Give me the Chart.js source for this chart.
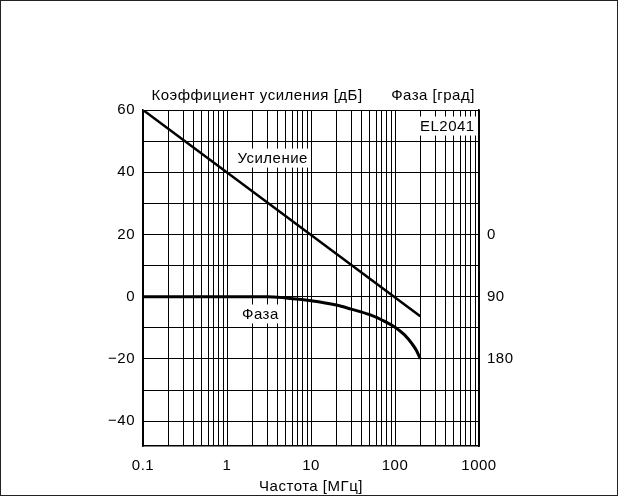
<!DOCTYPE html>
<html>
<head>
<meta charset="utf-8">
<script src="https://cdn.jsdelivr.net/npm/chart.js@4/dist/chart.umd.min.js"></script>
<style>
  html, body { margin: 0; padding: 0; background: #fff; }
  #wrap { width: 618px; height: 496px; position: relative; }
</style>
</head>
<body>
<div id="wrap"><canvas id="chart" width="618" height="496"></canvas></div>
<script>
  // Gain curve (dB vs MHz)
  const gainFreq = [0.1, 200];
  const gainDb = [60, -6.3];

  // Phase curve, plotted on the left dB scale (0 dB = 90 deg, -20 dB = 180 deg)
  const phaseFreq = [0.1, 1, 3, 5, 10, 20, 30, 50, 70, 100, 130, 160, 180, 200];
  const phaseDb = [0, 0, 0, -0.4, -1.3, -2.7, -4, -5.8, -7.5, -9.8, -12.3, -15.2, -17.3, -20];

  // Axis ticks
  const xDecades = [0.1, 1, 10, 100, 1000];
  const xTickLabels = ['0.1', '1', '10', '100', '1000'];
  const yGridValues = [60, 50, 40, 30, 20, 10, 0, -10, -20, -30, -40];
  const yLabelValues = [60, 40, 20, 0, -20, -40];
  const yLabels = ['60', '40', '20', '0', '\u221220', '\u221240'];
  const phaseTickPos = [20, 0, -20];
  const phaseTickLabels = ['0', '90', '180'];

  const FONT = '"Liberation Sans", Arial, sans-serif';
  const FSIZE = 15;

  const spacingPlugin = {
    id: 'spacing',
    beforeUpdate(chart) { chart.ctx.letterSpacing = '0.5px'; },
    beforeDraw(chart) { chart.ctx.letterSpacing = '0.5px'; }
  };

  const labelsPlugin = {
    id: 'labels',
    afterDatasetsDraw(chart) {
      const { ctx, scales: { x, y } } = chart;
      const boxed = [
        { text: 'Усиление', fx: 3.5, fy: 44.7 },
        { text: 'Фаза', fx: 2.5, fy: -5.4 },
        { text: 'EL2041', fx: 420, fy: 55 }
      ];
      ctx.save();
      ctx.font = FSIZE + 'px ' + FONT;
      ctx.textAlign = 'center';
      ctx.textBaseline = 'middle';
      boxed.forEach(b => {
        const px = x.getPixelForValue(b.fx);
        const py = y.getPixelForValue(b.fy);
        const w = ctx.measureText(b.text).width + 6;
        ctx.fillStyle = '#fff';
        ctx.fillRect(px - w / 2, py - 9, w, 19);
        ctx.fillStyle = '#000';
        ctx.fillText(b.text, px, py + 1);
      });

      // titles above the plot
      const area = chart.chartArea;
      ctx.textBaseline = 'alphabetic';
      ctx.fillText('Коэффициент усиления [дБ]', 257, area.top - 10);
      ctx.fillText('Фаза [град]', 433, area.top - 10);

      // outer frame
      ctx.strokeStyle = '#222';
      ctx.lineWidth = 1;
      ctx.strokeRect(0.5, 0.5, chart.width - 1, chart.height - 1);
      ctx.restore();
    }
  };

  const toPoints = (xs, ys) => xs.map((v, i) => ({ x: v, y: ys[i] }));

  new Chart(document.getElementById('chart'), {
    type: 'scatter',
    data: {
      datasets: [
        {
          label: 'Усиление',
          data: toPoints(gainFreq, gainDb),
          showLine: true,
          borderColor: '#000',
          borderWidth: 2.5,
          pointRadius: 0,
          yAxisID: 'y'
        },
        {
          label: 'Фаза',
          data: toPoints(phaseFreq, phaseDb),
          showLine: true,
          borderColor: '#000',
          borderWidth: 3,
          pointRadius: 0,
          cubicInterpolationMode: 'monotone',
          yAxisID: 'y'
        }
      ]
    },
    options: {
      responsive: false,
      animation: false,
      layout: { padding: { top: 110, left: 0, right: 0, bottom: 0 } },
      plugins: {
        legend: { display: false },
        tooltip: { enabled: false }
      },
      scales: {
        x: {
          type: 'logarithmic',
          min: 0.1,
          max: 1000,
          afterBuildTicks(scale) {
            const ticks = [];
            xDecades.forEach((d, i) => {
              if (i === xDecades.length - 1) { ticks.push({ value: d }); return; }
              for (let k = 1; k <= 9; k++) ticks.push({ value: d * k });
            });
            scale.ticks = ticks;
          },
          afterFit(scale) { scale.height = 50; },
          grid: { color: '#000', lineWidth: 1, drawTicks: false },
          border: { display: true, color: '#000', width: 1.5 },
          ticks: {
            autoSkip: false,
            maxRotation: 0,
            padding: 11,
            color: '#000',
            font: { family: FONT, size: FSIZE },
            callback(value) {
              const idx = xDecades.findIndex(d => Math.abs(d - value) < d * 1e-6);
              return idx >= 0 ? xTickLabels[idx] : '';
            }
          },
          title: {
            display: true,
            text: 'Частота [МГц]',
            color: '#000',
            font: { family: FONT, size: FSIZE },
            padding: { top: 3, bottom: 0 }
          }
        },
        y: {
          type: 'linear',
          position: 'left',
          min: -48,
          max: 60,
          afterBuildTicks(scale) {
            scale.ticks = yGridValues.map(v => ({ value: v }));
          },
          afterFit(scale) { scale.width = 143; },
          grid: { color: '#000', lineWidth: 1, drawTicks: false },
          border: { display: true, color: '#000', width: 1.5 },
          ticks: {
            padding: 8,
            color: '#000',
            font: { family: FONT, size: FSIZE },
            callback(value) {
              const idx = yLabelValues.indexOf(value);
              return idx >= 0 ? yLabels[idx] : '';
            }
          }
        },
        phase: {
          type: 'linear',
          position: 'right',
          min: -48,
          max: 60,
          afterBuildTicks(scale) {
            scale.ticks = phaseTickPos.map(v => ({ value: v }));
          },
          afterFit(scale) { scale.width = 139; },
          grid: { display: false, drawTicks: false },
          border: { display: true, color: '#000', width: 1.5 },
          ticks: {
            padding: 8,
            color: '#000',
            font: { family: FONT, size: FSIZE },
            callback(value) {
              const idx = phaseTickPos.indexOf(value);
              return idx >= 0 ? phaseTickLabels[idx] : '';
            }
          }
        }
      }
    },
    plugins: [spacingPlugin, labelsPlugin]
  });
</script>
</body>
</html>
